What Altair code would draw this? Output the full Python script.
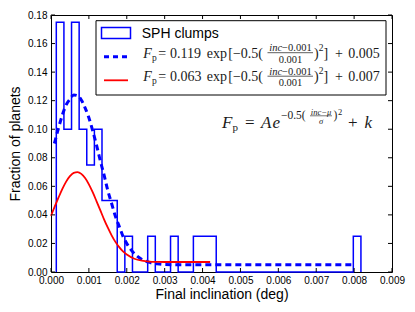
import altair as alt
import pandas as pd

# ---------------- data ----------------
# histogram (step outline): segment edges and heights (fraction of planets)
hist_edges = [0.000140, 0.000341, 0.000542, 0.000743, 0.000944, 0.001145, 0.001346,
              0.001748, 0.001949, 0.002150, 0.002552, 0.002753, 0.003155, 0.003356,
              0.003758, 0.004361, 0.007979, 0.008180]
hist_heights = [0.175, 0.100, 0.175, 0.100, 0.075, 0.100, 0.050, 0.000, 0.025,
                0.000, 0.025, 0.000, 0.025, 0.000, 0.025, 0.000, 0.025]

# blue dashed fit curve
blue_x = [0.00009, 0.0002, 0.0003, 0.0004, 0.0005, 0.0006, 0.0007, 0.0008, 0.0009,
          0.0010, 0.0011, 0.0012, 0.0013, 0.0014, 0.0015, 0.0016, 0.0017, 0.0018,
          0.0019, 0.0020, 0.0022, 0.0024, 0.0026, 0.0028, 0.0030, 0.0035, 0.0050,
          0.0065, 0.0080]
blue_y = [0.090, 0.101, 0.110, 0.117, 0.121, 0.124, 0.1235, 0.1205, 0.115,
          0.108, 0.099, 0.089, 0.078, 0.068, 0.057, 0.048, 0.039, 0.032,
          0.025, 0.020, 0.0129, 0.0088, 0.0067, 0.0057, 0.0052, 0.0050, 0.0050,
          0.0050, 0.0050]

# red fit curve
red_x = [0.0000, 0.0001, 0.0002, 0.0003, 0.0004, 0.0005, 0.0006, 0.0007, 0.0008,
         0.0009, 0.0010, 0.0011, 0.0012, 0.0013, 0.0014, 0.0015, 0.0016, 0.0017,
         0.0018, 0.0019, 0.0020, 0.0022, 0.0024, 0.0026, 0.0028, 0.0030, 0.0036,
         0.0042]
red_y = [0.0394, 0.0459, 0.0522, 0.0582, 0.0633, 0.0671, 0.0694, 0.0699, 0.0687,
         0.0658, 0.0614, 0.0559, 0.0497, 0.0433, 0.0369, 0.0310, 0.0257, 0.0211,
         0.0174, 0.0144, 0.0122, 0.0093, 0.0079, 0.0073, 0.0071, 0.0070, 0.0070,
         0.0070]

x_ticks = [0.000, 0.001, 0.002, 0.003, 0.004, 0.005, 0.006, 0.007, 0.008, 0.009]
y_ticks = [0.00, 0.02, 0.04, 0.06, 0.08, 0.10, 0.12, 0.14, 0.16, 0.18]

# ---------------- tables ----------------
step_rows = [(hist_edges[0], 0.0)]
step_rows += [(hist_edges[i], hist_heights[i]) for i in range(len(hist_heights))]
step_rows += [(hist_edges[-1], 0.0)]
step_df = pd.DataFrame({"x": [r[0] for r in step_rows],
                        "y": [r[1] for r in step_rows],
                        "i": list(range(len(step_rows)))})
blue_df = pd.DataFrame({"x": blue_x, "y": blue_y})
red_df = pd.DataFrame({"x": red_x, "y": red_y})
xt_df = pd.DataFrame({"x": x_ticks})
yt_df = pd.DataFrame({"y": y_ticks})
one = pd.DataFrame({"a": [0]})

W, H = 341, 257
OX, OY = 51, 15  # plot origin on the page
SANS = "Liberation Sans"
SERIF = "Liberation Serif"
BLUE = "#0000ff"
RED = "#ff0000"
TXT = "#1a1a1a"

xs = alt.Scale(domain=[0, 0.009], nice=False, zero=False)
ys = alt.Scale(domain=[0, 0.18], nice=False, zero=False)

x_axis = alt.Axis(values=x_ticks, format=".3f", labelFont=SANS, labelFontSize=10,
                  labelColor="black", ticks=False, domain=False, grid=False,
                  labelPadding=3.5, labelOverlap=False, labelFlush=False,
                  title="Final inclination (deg)", titleFont=SANS, titleFontSize=14,
                  titleFontWeight="normal", titleColor="black",
                  titleX=W / 2, titleY=22.5, titleBaseline="middle", titleAlign="center")
y_axis = alt.Axis(values=y_ticks, format=".2f", labelFont=SANS, labelFontSize=10,
                  labelColor="black", ticks=False, domain=False, grid=False,
                  labelPadding=4, labelOverlap=False, labelFlush=False,
                  title="Fraction of planets", titleFont=SANS, titleFontSize=14,
                  titleFontWeight="normal", titleColor="black",
                  titleX=-36, titleY=H / 2, titleAngle=-90,
                  titleBaseline="middle", titleAlign="center")

X = alt.X("x:Q", scale=xs, axis=x_axis)
Y = alt.Y("y:Q", scale=ys, axis=y_axis)

hist = alt.Chart(step_df).mark_line(interpolate="step-after", color=BLUE,
                                    strokeWidth=1.5, clip=False).encode(
    x=X, y=Y, order="i:Q")

blue_line = alt.Chart(blue_df).mark_line(interpolate="monotone", color=BLUE,
                                         strokeWidth=3, strokeDash=[6, 4]).encode(x=X, y=Y)

red_line = alt.Chart(red_df).mark_line(interpolate="monotone", color=RED,
                                       strokeWidth=1.8).encode(x=X, y=Y)

# inward ticks on all four sides
tick_bottom = alt.Chart(xt_df).mark_rule(color="black", strokeWidth=1).encode(
    x=X, y=alt.value(H), y2=alt.value(H - 4))
tick_top = alt.Chart(xt_df).mark_rule(color="black", strokeWidth=1).encode(
    x=X, y=alt.value(0), y2=alt.value(4))
tick_left = alt.Chart(yt_df).mark_rule(color="black", strokeWidth=1).encode(
    y=Y, x=alt.value(0), x2=alt.value(4))
tick_right = alt.Chart(yt_df).mark_rule(color="black", strokeWidth=1).encode(
    y=Y, x=alt.value(W), x2=alt.value(W - 4))


def txt(s, x, y, size, font=SERIF, italic=False, align="left", color=TXT):
    return alt.Chart(one).mark_text(
        text=s, fontSize=size, font=font, align=align, baseline="middle",
        fontStyle="italic" if italic else "normal", color=color).encode(
        x=alt.value(x - OX), y=alt.value(y - OY))


def hline(x1, x2, y, color="black", width=1.0, dash=None):
    kw = dict(color=color, strokeWidth=width)
    if dash:
        kw["strokeDash"] = dash
    return alt.Chart(one).mark_rule(**kw).encode(
        x=alt.value(x1 - OX), x2=alt.value(x2 - OX), y=alt.value(y - OY))


# legend box
legend_box = alt.Chart(one).mark_rect(fill="white", stroke="black", strokeWidth=1).encode(
    x=alt.value(96 - OX), x2=alt.value(386 - OX), y=alt.value(20.7 - OY), y2=alt.value(95 - OY))
patch = alt.Chart(one).mark_rect(fill="white", stroke=BLUE, strokeWidth=1.5).encode(
    x=alt.value(101.5 - OX), x2=alt.value(130.5 - OX), y=alt.value(27.5 - OY), y2=alt.value(38.5 - OY))

layers = [hist, blue_line, red_line, tick_bottom, tick_top, tick_left, tick_right,
          legend_box, patch,
          txt("SPH clumps", 141.7, 33.5, 14, font=SANS, color="black"),
          hline(104, 128, 56.7, color=BLUE, width=3, dash=[5, 4]),
          hline(104, 128, 80.3, color=RED, width=1.8)]


def formula_row(yc, amp, off):
    return [
        txt("F", 143.3, yc, 14, italic=True),
        txt("p", 151.9, yc + 4, 9.5),
        txt("=", 158.3, yc, 14),
        txt(amp, 170, yc, 14),
        txt("exp", 206.7, yc, 14),
        txt("[\u22120.5(", 228.3, yc, 14),
        txt("inc", 269.3, yc - 5.4, 10.5, italic=True),
        txt("\u22120.001", 282.1, yc - 5.4, 10.5),
        hline(267.5, 313, yc - 0.8, color=TXT, width=0.7),
        txt("0.001", 290.5, yc + 6, 10.5, align="center"),
        txt(")", 314, yc, 14),
        txt("2", 318.8, yc - 6, 9.5),
        txt("]", 323.5, yc, 14),
        txt("+", 335, yc, 14),
        txt(off, 348.3, yc, 14),
    ]


layers += formula_row(53.5, "0.119", "0.005")
layers += formula_row(77.0, "0.063", "0.007")

# general formula annotation
layers += [
    txt("F", 222, 122.5, 17, italic=True),
    txt("p", 232.5, 127.5, 11),
    txt("=", 245, 122.5, 17),
    txt("A", 261, 122.5, 17, italic=True),
    txt("e", 272.5, 122.5, 17, italic=True),
    txt("\u22120.5(", 281, 115.5, 11.5),
    txt("inc\u2212\u03bc", 321, 111.8, 8.5, italic=True, align="center"),
    hline(310, 332, 115.8, color=TXT, width=0.6),
    txt("\u03c3", 321, 120.8, 8.5, italic=True, align="center"),
    txt(")", 333.5, 115.5, 11.5),
    txt("2", 338, 111.5, 8.5),
    txt("+", 348, 122.5, 17),
    txt("k", 364.5, 122.5, 17, italic=True),
]

chart = alt.layer(*layers).properties(
    width=W, height=H,
    padding={"left": OX - 8, "top": OY - 8, "right": 15, "bottom": 32},
    autosize=alt.AutoSizeParams(type="none"),
    background="white",
).configure_view(stroke="black", strokeWidth=1)

chart.save("out.html", embed_options={"renderer": "svg", "actions": False})
